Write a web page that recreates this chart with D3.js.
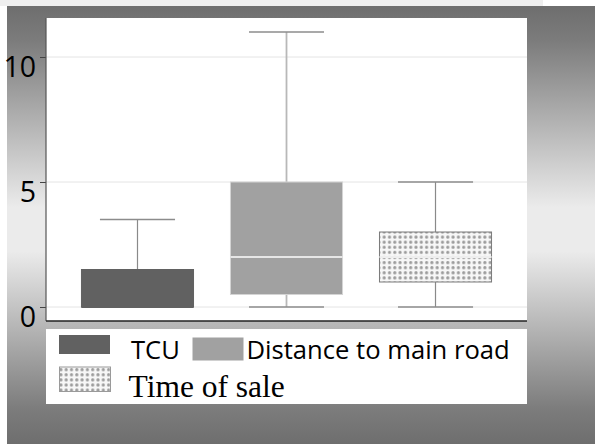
<!DOCTYPE html>
<html>
<head>
<meta charset="utf-8">
<script src="https://cdn.jsdelivr.net/npm/d3@7"></script>
<style>
  body { margin: 0; background: #fff; }
  svg { display: block; }
</style>
</head>
<body>
<div id="chart"></div>
<script>
var chart_width = 595;
var chart_height = 444;

// box plot summary values
var categories = ['TCU', 'Distance to main road', 'Time of sale'];
var mins    = [0, 0, 0];
var q1s     = [0, 0.5, 1];
var medians = [0, 2, 2];
var q3s     = [1.5, 5, 3];
var maxs    = [3.5, 11, 5];
var y_ticks = [0, 5, 10];

var data = categories.map((c, i) => {
    return { name: c, min: mins[i], q1: q1s[i], med: medians[i], q3: q3s[i], max: maxs[i] };
});

// look of each box
var box_fill   = ['#616161', '#a1a1a1', 'url(#dots)'];
var box_stroke = ['#616161', '#d4d4d4', '#7a7a7a'];
var whisk_col  = ['#8a8a8a', '#b8b8b8', '#8a8a8a'];
var whisk_w    = [1.2, 1.8, 1.2];
var med_col    = ['#616161', '#e6e6e6', '#eeeeee'];

var plot = { left: 46, right: 527, top: 18, bottom: 321 };

var svg = d3.select('#chart')
            .append('svg')
            .attr('width', chart_width)
            .attr('height', chart_height);

var defs = svg.append('defs');

// grey background, dark at top and bottom and light in the middle
var grad = defs.append('linearGradient')
               .attr('id', 'bg')
               .attr('x1', 0).attr('y1', 0)
               .attr('x2', 0).attr('y2', 1);
grad.append('stop').attr('offset', '0%').attr('stop-color', '#6e6e6e');
grad.append('stop').attr('offset', '8%').attr('stop-color', '#7c7c7c');
grad.append('stop').attr('offset', '46%').attr('stop-color', '#ebebeb');
grad.append('stop').attr('offset', '56%').attr('stop-color', '#ebebeb');
grad.append('stop').attr('offset', '92%').attr('stop-color', '#7c7c7c');
grad.append('stop').attr('offset', '100%').attr('stop-color', '#6e6e6e');

// dotted fill for "Time of sale"
var pat = defs.append('pattern')
              .attr('id', 'dots')
              .attr('patternUnits', 'userSpaceOnUse')
              .attr('width', 5.3)
              .attr('height', 5.1);
pat.append('rect').attr('width', 5.3).attr('height', 5.1).attr('fill', '#f7f7f7');
pat.append('circle').attr('cx', 2.6).attr('cy', 2.5).attr('r', 1.6).attr('fill', '#9c9c9c');

svg.append('rect')
    .attr('x', 0).attr('y', 0)
    .attr('width', 543).attr('height', 6)
    .attr('fill', '#efefef');

svg.append('rect')
    .attr('x', 7).attr('y', 6)
    .attr('width', chart_width - 7).attr('height', chart_height - 6)
    .attr('fill', 'url(#bg)');

// plot panel
svg.append('rect')
    .attr('x', plot.left).attr('y', plot.top)
    .attr('width', plot.right - plot.left)
    .attr('height', plot.bottom - plot.top)
    .attr('fill', '#ffffff');

// Create Scales
var x_scale = d3.scaleBand()
                .domain(categories)
                .range([plot.left, plot.right])
                .paddingInner(0.248)
                .paddingOuter(0.238);

var y_scale = d3.scaleLinear()
                .domain([-0.56, 11.56])
                .range([plot.bottom, plot.top]);

// gridlines
svg.selectAll('.grid')
    .data(y_ticks)
    .enter()
    .append('line')
    .attr('class', 'grid')
    .attr('x1', plot.left)
    .attr('x2', plot.right)
    .attr('y1', (d) => y_scale(d))
    .attr('y2', (d) => y_scale(d))
    .attr('stroke', '#e4e4e4')
    .attr('stroke-width', 1);

var bw = x_scale.bandwidth();
var cap = bw * 0.67;

var boxes = svg.selectAll('.box')
    .data(data)
    .enter()
    .append('g')
    .attr('class', 'box');

// whiskers
boxes.append('line')
    .attr('x1', (d) => x_scale(d.name) + bw / 2)
    .attr('x2', (d) => x_scale(d.name) + bw / 2)
    .attr('y1', (d) => y_scale(d.q3))
    .attr('y2', (d) => y_scale(d.max))
    .attr('stroke', (d, i) => whisk_col[i])
    .attr('stroke-width', (d, i) => whisk_w[i]);

boxes.append('line')
    .attr('x1', (d) => x_scale(d.name) + bw / 2)
    .attr('x2', (d) => x_scale(d.name) + bw / 2)
    .attr('y1', (d) => y_scale(d.q1))
    .attr('y2', (d) => y_scale(d.min))
    .attr('stroke', (d, i) => whisk_col[i])
    .attr('stroke-width', (d, i) => whisk_w[i]);

// caps at min and max
['min', 'max'].forEach((k) => {
    boxes.append('line')
        .attr('x1', (d) => x_scale(d.name) + (bw - cap) / 2)
        .attr('x2', (d) => x_scale(d.name) + (bw + cap) / 2)
        .attr('y1', (d) => y_scale(d[k]))
        .attr('y2', (d) => y_scale(d[k]))
        .attr('stroke', '#8c8c8c')
        .attr('stroke-width', 1.3);
});

// boxes
boxes.append('rect')
    .attr('x', (d) => x_scale(d.name))
    .attr('y', (d) => y_scale(d.q3))
    .attr('width', bw)
    .attr('height', (d) => y_scale(d.q1) - y_scale(d.q3))
    .attr('fill', (d, i) => box_fill[i])
    .attr('stroke', (d, i) => box_stroke[i])
    .attr('stroke-width', 1);

// medians
boxes.append('line')
    .attr('x1', (d) => x_scale(d.name))
    .attr('x2', (d) => x_scale(d.name) + bw)
    .attr('y1', (d) => y_scale(d.med))
    .attr('y2', (d) => y_scale(d.med))
    .attr('stroke', (d, i) => med_col[i])
    .attr('stroke-width', 1.8);

// y axis
var y_axis = d3.axisLeft(y_scale)
               .tickValues(y_ticks)
               .tickSize(6)
               .tickPadding(4);

var ay = svg.append('g')
    .attr('transform', 'translate(' + plot.left + ',0)')
    .call(y_axis);
ay.select('.domain').remove();
ay.selectAll('.tick line').attr('stroke', '#444');
ay.selectAll('.tick text')
    .attr('y', 10.5)
    .attr('fill', '#000')
    .style('font-family', '"Open Sans", sans-serif')
    .style('font-size', '28.5px');

// axis lines
svg.append('line')
    .attr('x1', plot.left).attr('x2', plot.left)
    .attr('y1', plot.top).attr('y2', plot.bottom)
    .attr('stroke', '#555').attr('stroke-width', 1.2);
svg.append('line')
    .attr('x1', plot.left).attr('x2', plot.right)
    .attr('y1', plot.bottom).attr('y2', plot.bottom)
    .attr('stroke', '#222').attr('stroke-width', 1.5);

// legend
var legend = svg.append('g');
legend.append('rect')
    .attr('x', 46).attr('y', 329)
    .attr('width', 481).attr('height', 75)
    .attr('fill', '#ffffff');

var leg_items = [
    { sw: [59, 335, 51, 19], fill: box_fill[0], stroke: 'none', tx: 131, ty: 359, font: '"Open Sans", sans-serif', size: 25.6 },
    { sw: [192.5, 337.5, 51, 23], fill: box_fill[1], stroke: 'none', tx: 246.5, ty: 358.5, font: '"Open Sans", sans-serif', size: 25.6 },
    { sw: [59.5, 367, 51, 24.5], fill: box_fill[2], stroke: '#9a9a9a', tx: 128.5, ty: 396.7, font: '"Liberation Serif", "Times New Roman", serif', size: 31.5 }
];

legend.selectAll('.sw')
    .data(leg_items)
    .enter()
    .append('rect')
    .attr('x', (d) => d.sw[0])
    .attr('y', (d) => d.sw[1])
    .attr('width', (d) => d.sw[2])
    .attr('height', (d) => d.sw[3])
    .attr('fill', (d) => d.fill)
    .attr('stroke', (d) => d.stroke);

legend.selectAll('.lt')
    .data(leg_items)
    .enter()
    .append('text')
    .text((d, i) => categories[i])
    .attr('x', (d) => d.tx)
    .attr('y', (d) => d.ty)
    .attr('fill', '#000')
    .style('font-family', (d) => d.font)
    .style('font-size', (d) => d.size + 'px');
</script>
</body>
</html>
